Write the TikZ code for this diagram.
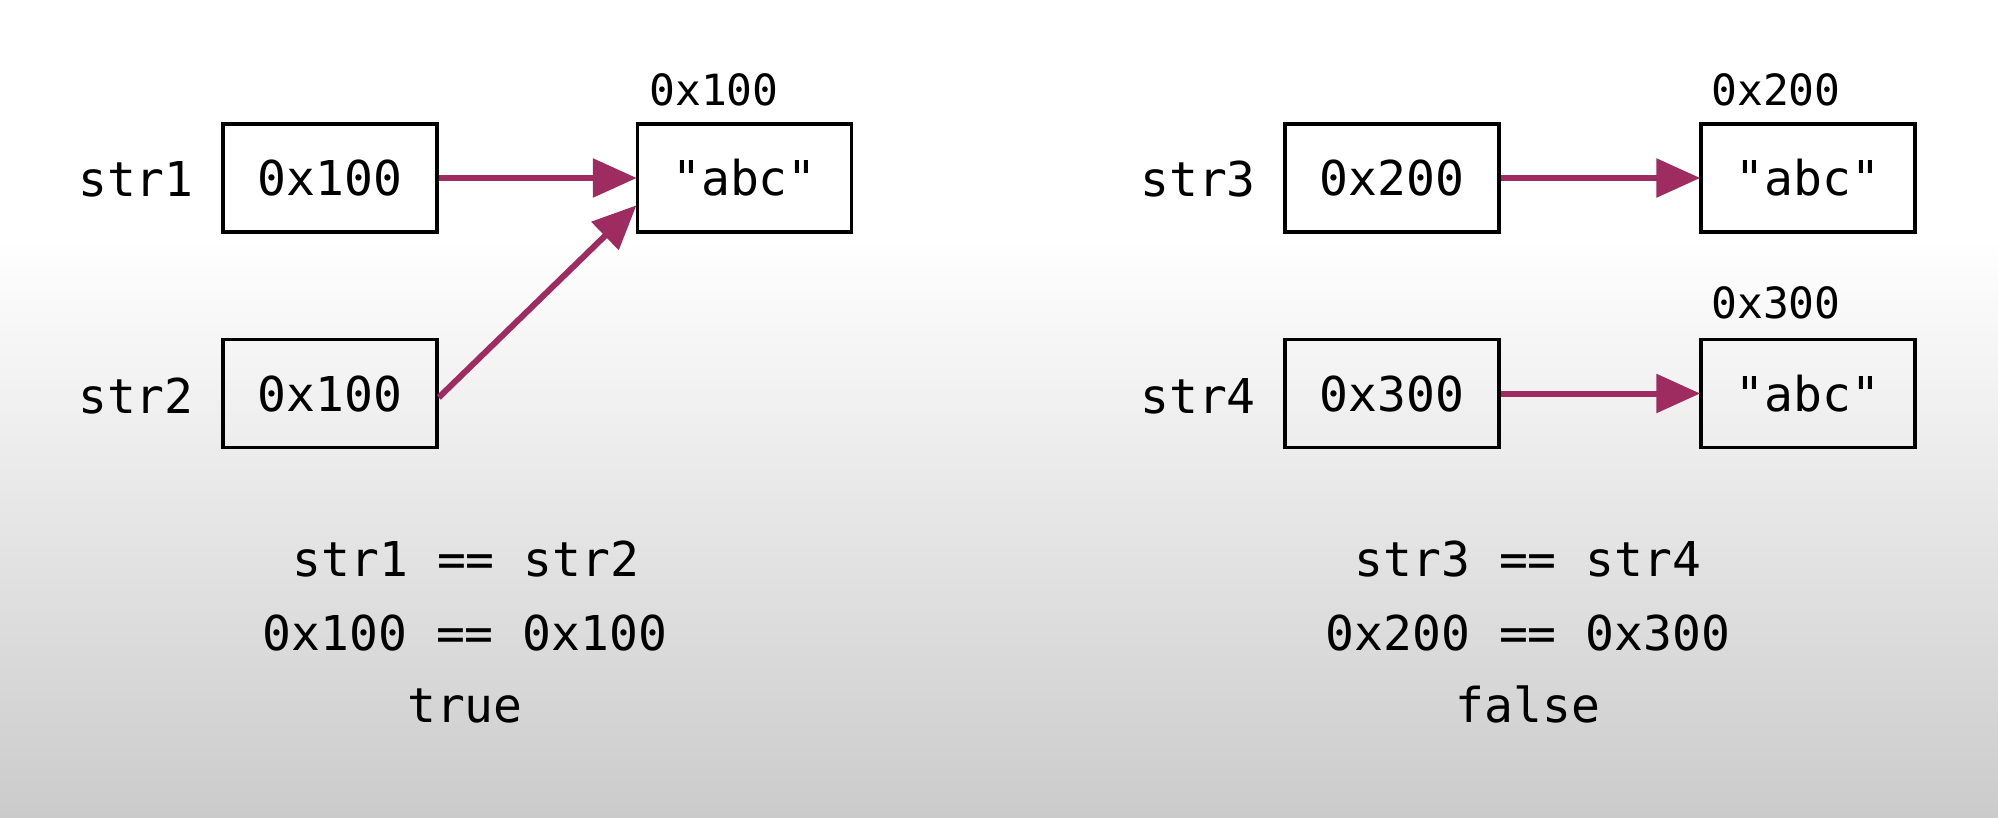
\documentclass[tikz,border=0pt]{standalone}
\usepackage{fontspec}
\newfontfamily\codefont{DejaVu Sans Mono}
\usetikzlibrary{arrows.meta}
\definecolor{arrowc}{RGB}{158,44,96}
\definecolor{bggray}{RGB}{203,203,203}
\tikzset{
  membox/.style={draw=black, line width=3.5pt, minimum width=214pt, minimum height=108pt, inner sep=0pt,
    text height=35pt, text depth=0pt, font=\codefont\fontsize{48}{58}\selectfont},
  lbl/.style={anchor=base, inner sep=0pt, font=\codefont\fontsize{48}{58}\selectfont},
  addr/.style={anchor=base, inner sep=0pt, font=\codefont\fontsize{43}{52}\selectfont},
  ptr/.style={draw=arrowc, line width=6pt, -{Triangle[length=44pt,width=38pt]}, shorten >=-1pt}
}
\begin{document}
\begin{tikzpicture}[x=1pt,y=-1pt]
\useasboundingbox (0,0) rectangle (1998,818);
\fill[white] (0,0) rectangle (1998,240);
\shade[top color=white, bottom color=bggray] (0,239) rectangle (1998,818);
% left
\node[membox] (b1) at (330,178) {0x100};
\node[membox] (b2) at (330,393.5) {0x100};
\node[membox] (s1) at (744.5,178) {"abc"};
\node[lbl] (n1) at (136,197) {str1};
\node[lbl] (n2) at (136,413) {str2};
\node[addr] (a1) at (714,106) {0x100};
\draw[ptr] (b1.east) -- (s1.west);
\draw[ptr] ([yshift=-4pt]b2.east) -- ([yshift=-28pt]s1.west);
\node[lbl] (e1) at (466,576) {str1 == str2};
\node[lbl] (e2) at (465,650) {0x100 == 0x100};
\node[lbl] (e3) at (465,722) {true};
% right
\node[membox] (b3) at (1392,178) {0x200};
\node[membox] (b4) at (1392,393.5) {0x300};
\node[membox] (s3) at (1808,178) {"abc"};
\node[membox] (s4) at (1808,393.5) {"abc"};
\node[lbl] (n3) at (1198,197) {str3};
\node[lbl] (n4) at (1198,413) {str4};
\node[addr] (a3) at (1776,106) {0x200};
\node[addr] (a4) at (1776,319) {0x300};
\draw[ptr] (b3.east) -- (s3.west);
\draw[ptr] (b4.east) -- (s4.west);
\node[lbl] (f1) at (1528,576) {str3 == str4};
\node[lbl] (f2) at (1528,650) {0x200 == 0x300};
\node[lbl] (f3) at (1528,722) {false};
\end{tikzpicture}
\end{document}
